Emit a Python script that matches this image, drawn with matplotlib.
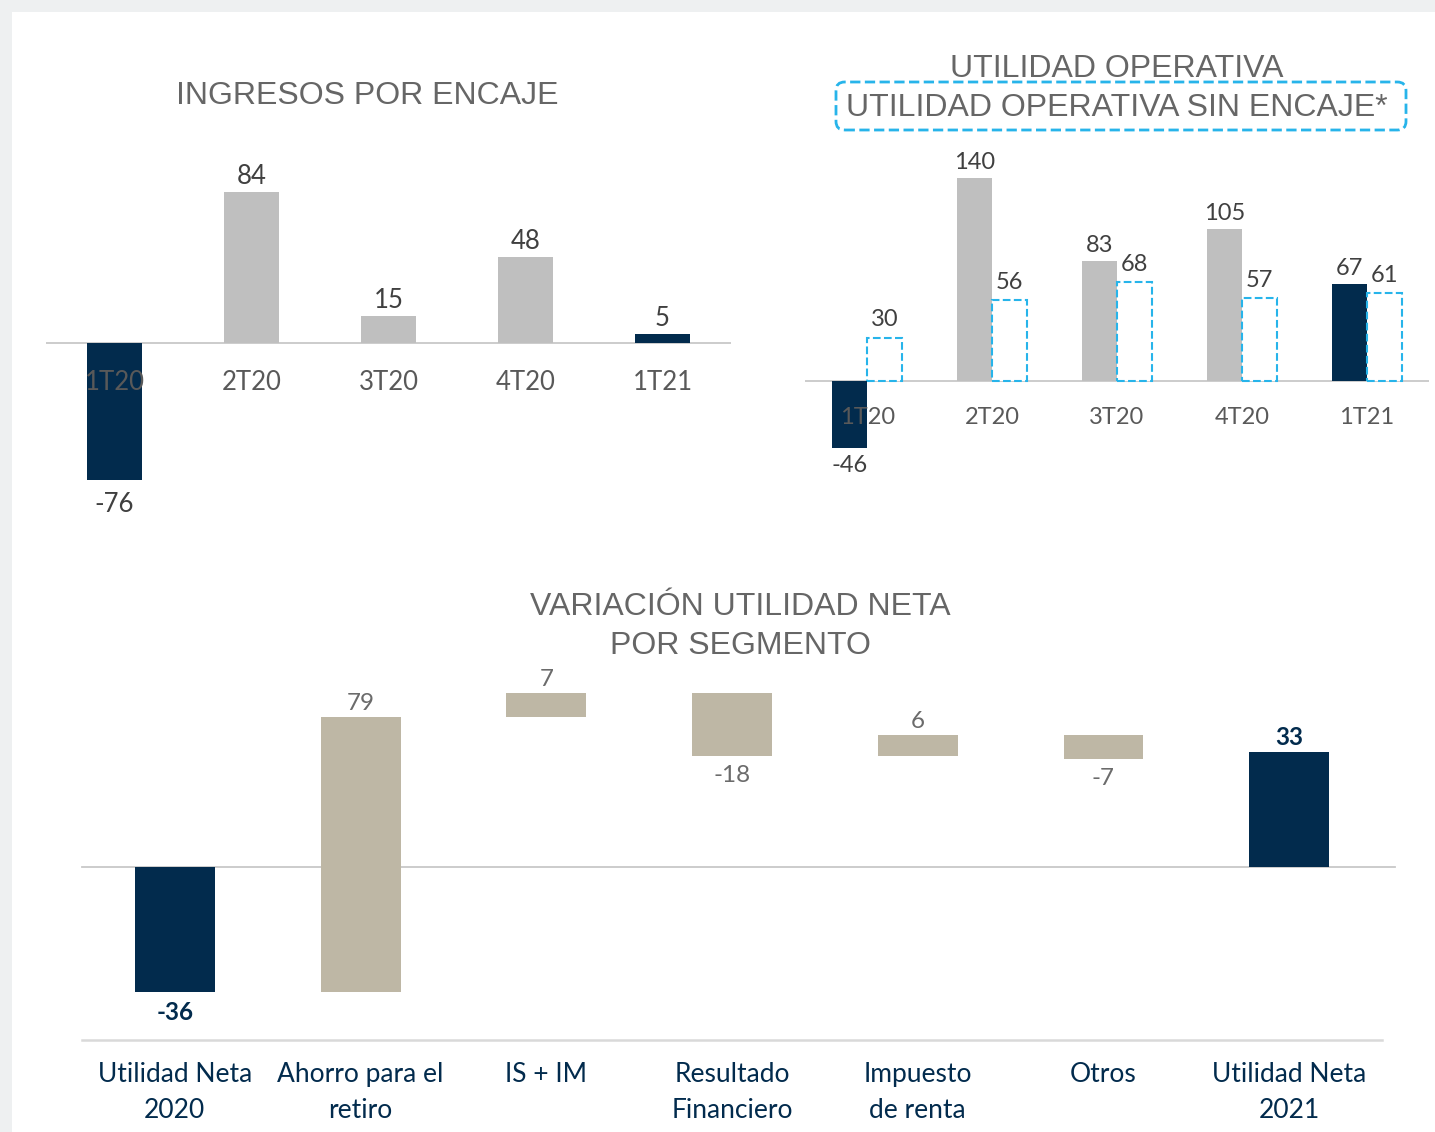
import numpy as np
import matplotlib.pyplot as plt
from matplotlib.patches import Rectangle, FancyBboxPatch

# data
quarters = ['1T20', '2T20', '3T20', '4T20', '1T21']
encaje = [-76, 84, 15, 48, 5]
util_op = [-46, 140, 83, 105, 67]
util_op_sin = [30, 56, 68, 57, 61]
segmentos = ['Utilidad Neta\n2020', 'Ahorro para el\nretiro', 'IS + IM',
             'Resultado\nFinanciero', 'Impuesto\nde renta', 'Otros', 'Utilidad Neta\n2021']
variacion = [-36, 79, 7, -18, 6, -7, 33]

NAVY = '#022B4D'
GRAY = '#BFBFBF'
TAN = '#BEB7A5'
CYAN = '#27B4EA'
TXT = '#404040'
TICK = '#595959'
TITLE = '#666666'
NUM = 'Lato'
HEAD = 'Liberation Sans'

W, H = 1435, 1132
fig = plt.figure(figsize=(W / 100, H / 100), dpi=100)
fig.patch.set_facecolor('#EEF0F1')
fig.patches.append(Rectangle((12 / W, 0), 1, 1 - 12 / H, transform=fig.transFigure,
                             facecolor='white', edgecolor='none', zorder=-5))


def px_axes(x0, y0, x1, y1):
    ax = fig.add_axes([x0 / W, 1 - y1 / H, (x1 - x0) / W, (y1 - y0) / H])
    ax.patch.set_alpha(0)
    for s in ax.spines.values():
        s.set_visible(False)
    ax.set_yticks([])
    ax.set_xticks([])
    return ax


def label(ax, x, y, txt, dy, va, **kw):
    ax.annotate(txt, (x, y), xytext=(0, dy), textcoords='offset pixels',
                ha='center', va=va, annotation_clip=False, **kw)


# ---- Ingresos por encaje ----
ax1 = px_axes(46, 150, 731, 520)
ax1.set_xlim(-0.5, 4.5)
ax1.set_ylim(-(520 - 343) / 1.8, (343 - 150) / 1.8)
x = np.arange(len(quarters))
c1 = [NAVY, GRAY, GRAY, GRAY, NAVY]
ax1.bar(x, encaje, width=0.4, color=c1, zorder=2)
ax1.axhline(0, color='#C8C8C8', lw=1.3, zorder=1)
for i, v in enumerate(encaje):
    if v >= 0:
        label(ax1, i, v, str(v), 3, 'bottom', fontsize=18.5, color=TXT, family=NUM)
    else:
        label(ax1, i, v, str(v), -12, 'top', fontsize=18.5, color=TXT, family=NUM)
    label(ax1, i, 0, quarters[i], -40, 'center', fontsize=18.5, color=TICK, family=NUM, zorder=3)
fig.text(367 / W, 1 - 96 / H, 'INGRESOS POR ENCAJE', ha='center', va='center',
         fontsize=23, color=TITLE, family=HEAD)

# ---- Utilidad operativa ----
ax2 = px_axes(805, 150, 1429, 480)
ax2.set_xlim(-0.5, 4.5)
ax2.set_ylim(-(480 - 381) / 1.45, (381 - 150) / 1.45)
bw = 0.28
ax2.bar(x - bw / 2, util_op, width=bw, color=c1, zorder=2)
ax2.bar(x + bw / 2, util_op_sin, width=bw, facecolor='white', edgecolor=CYAN,
        linestyle='--', linewidth=1.5, zorder=2)
ax2.axhline(0, color='#C8C8C8', lw=1.3, zorder=1)
for i in range(len(quarters)):
    v = util_op[i]
    if v >= 0:
        label(ax2, i - bw / 2, v, str(v), 5, 'bottom', fontsize=17, color=TXT, family=NUM)
    else:
        label(ax2, i - bw / 2, v, str(v), -7, 'top', fontsize=17, color=TXT, family=NUM)
    label(ax2, i + bw / 2, util_op_sin[i], str(util_op_sin[i]), 7, 'bottom',
          fontsize=17, color=TXT, family=NUM)
    label(ax2, i, 0, quarters[i], -36, 'center', fontsize=17, color=TICK, family=NUM, zorder=3)
fig.text(1117 / W, 1 - 69 / H, 'UTILIDAD OPERATIVA', ha='center', va='center',
         fontsize=23, color=TITLE, family=HEAD)
fig.patches.append(FancyBboxPatch((836 / W, 1 - 130 / H), 570 / W, 48 / H,
                                  boxstyle='round,pad=0,rounding_size=0.006',
                                  mutation_aspect=W / H, transform=fig.transFigure,
                                  facecolor='none', edgecolor=CYAN, linestyle='--',
                                  linewidth=2, zorder=5))
fig.text(1117 / W, 1 - 108 / H, 'UTILIDAD OPERATIVA SIN ENCAJE*', ha='center', va='center',
         fontsize=23, color=TITLE, family=HEAD)

# ---- Variacion utilidad neta (waterfall) ----
ax3 = px_axes(82, 660, 1382, 1040)
ax3.set_xlim(-0.5, 6.5)
ax3.set_ylim(-(1040 - 867) / 3.48, (867 - 660) / 3.48)
xs = np.arange(len(segmentos))
bottoms, heights = [], []
run = 0
for i, v in enumerate(variacion):
    if i == 0 or i == len(variacion) - 1:
        bottoms.append(0)
        heights.append(v)
        run = v
    else:
        bottoms.append(run)
        heights.append(v)
        run += v
c3 = [NAVY] + [TAN] * (len(variacion) - 2) + [NAVY]
ax3.bar(xs, heights, bottom=bottoms, width=0.43, color=c3, zorder=2)
ax3.axhline(0, xmax=1.01, color='#C8C8C8', lw=1.3, zorder=1, clip_on=False)
ax3.spines['bottom'].set_visible(True)
ax3.spines['bottom'].set_color('#D9D9D9')
ax3.spines['bottom'].set_linewidth(1.8)
for i, v in enumerate(variacion):
    top = bottoms[i] + max(v, 0)
    bot = bottoms[i] + min(v, 0)
    end = i == 0 or i == len(variacion) - 1
    kw = dict(fontsize=17.5, family=NUM, color=NAVY if end else '#6B6B6B',
              fontweight='bold' if end else 'normal')
    if v >= 0:
        label(ax3, i, top, str(v), 3, 'bottom', **kw)
    else:
        label(ax3, i, bot, str(v), -9, 'top', **kw)
ax3.set_xticks(xs)
ax3.set_xticklabels(segmentos, fontsize=19, family=NUM, color=NAVY, linespacing=1.55)
ax3.tick_params(axis='x', length=0, pad=15.5)
fig.text(740 / W, 1 - 607 / H, 'VARIACIÓN UTILIDAD NETA', ha='center', va='center',
         fontsize=23, color=TITLE, family=HEAD)
fig.text(740 / W, 1 - 646 / H, 'POR SEGMENTO', ha='center', va='center',
         fontsize=23, color=TITLE, family=HEAD)

fig.savefig('out.png', dpi=100)
